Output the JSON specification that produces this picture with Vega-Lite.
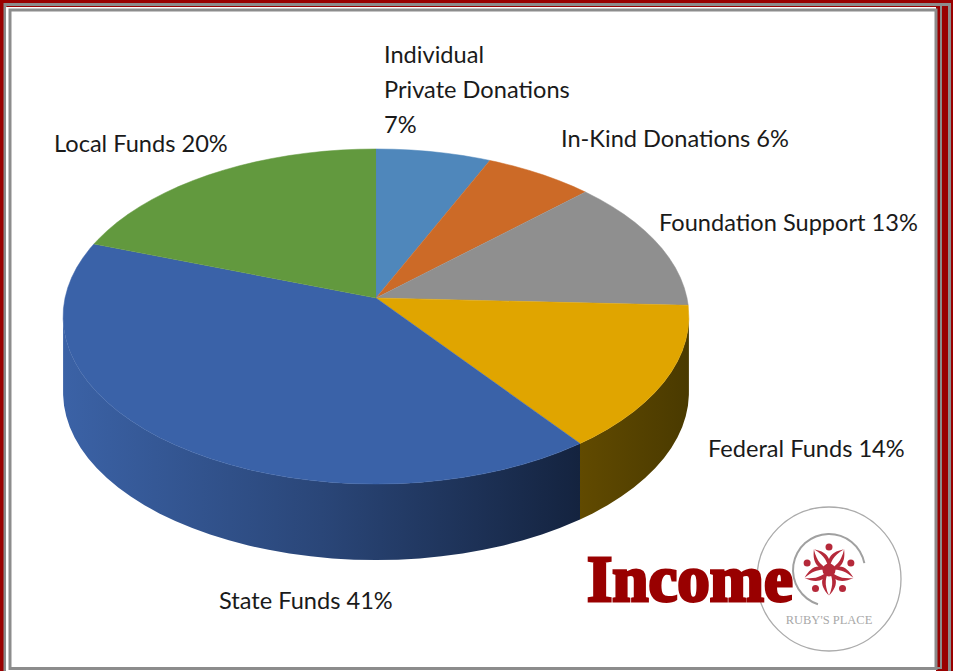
{
"$schema":"https://vega.github.io/schema/vega-lite/v6.json",
"width":953,"height":671,"padding":0,"autosize":"none","background":"#990000",
"config":{"view":{"stroke":null},"text":{"font":"Lato","fontSize":23.6,"fill":"#1a1a1a","align":"left","baseline":"alphabetic","lineBreak":"\n","lineHeight":35}},
"datasets":{
"slices":[
{"slice":"Individual Private Donations","share":7,"label":"Individual\nPrivate Donations\n7%","edge":[-1,0,1,2,3,4,5,6,6.6],"wall":[]},
{"slice":"In-Kind Donations","share":6,"label":"In-Kind Donations 6%","edge":[-1,6.6,7,8,9,10,11,12,12.9],"wall":[]},
{"slice":"Foundation Support","share":13,"label":"Foundation Support 13%","edge":[-1,12.9,14,15,16,17,18,19,20,21,22,23,24,25,25.7],"wall":[]},
{"slice":"Federal Funds","share":14,"label":"Federal Funds  14%","edge":[-1,25.7,27,28,29,30,31,32,33,34,35,36,37,38,39,39.8],"wall":[26.7,27,28,29,30,31,32,33,34,35,36,37,38,39,39.8]},
{"slice":"State Funds","share":41,"label":"State Funds 41%","edge":[-1,39.8,41,42,43,44,45,46,47,48,49,50,51,52,53,54,55,56,57,58,59,60,61,62,63,64,65,66,67,68,69,70,71,72,73,74,75,76,77,78,79,80,80.5],"wall":[39.8,41,42,43,44,45,46,47,48,49,50,51,52,53,54,55,56,57,58,59,60,61,62,63,64,65,66,67,68,69,70,71,72,73,73.3]},
{"slice":"Local Funds","share":20,"label":"Local Funds 20%","edge":[-1,80.5,81,82,83,84,85,86,87,88,89,90,91,92,93,94,95,96,97,98,99,100],"wall":[]}
],
"petals":[{"a":0},{"a":72},{"a":144},{"a":216},{"a":288}],
"one":[{"note":"annotation"}]
},
"layer":[
{"data":{"name":"one"},"mark":{"type":"rect","fill":null,"stroke":"#8c8c8c","strokeWidth":3},
 "encoding":{"x":{"datum":-371,"type":"quantitative","scale":{"domain":[-376,577],"nice":false,"zero":false},"axis":null},"x2":{"datum":573.5},"y":{"datum":293.5,"type":"quantitative","scale":{"domain":[-373,298],"nice":false,"zero":false},"axis":null},"y2":{"datum":-400}}},
{"data":{"name":"one"},"mark":{"type":"rect","fill":null,"stroke":"#8c8c8c","strokeWidth":2},
 "encoding":{"x":{"datum":-371,"type":"quantitative"},"x2":{"datum":565},"y":{"datum":293.5,"type":"quantitative"},"y2":{"datum":-370}}},
{"data":{"name":"one"},"mark":{"type":"rect","fill":"#ffffff"},
 "encoding":{"x":{"datum":-370,"type":"quantitative"},"x2":{"datum":560},"y":{"datum":291,"type":"quantitative"},"y2":{"datum":-373}}},
{"data":{"name":"one"},"mark":{"type":"rect","fill":"#ffffff","stroke":"#8c8c8c","strokeWidth":3},
 "encoding":{"x":{"datum":-366,"type":"quantitative"},"x2":{"datum":560},"y":{"datum":288,"type":"quantitative"},"y2":{"datum":-370.5}}},

{"data":{"name":"slices"},
 "transform":[{"filter":"datum.slice==='State Funds'"},{"flatten":["wall"]},
  {"calculate":"2*PI*datum.wall/100","as":"t"},
  {"calculate":"311*sin(datum.t)/(1+0.1104*cos(datum.t))","as":"px"},
  {"calculate":"165.5*cos(datum.t)/(1+0.1104*cos(datum.t))","as":"py"},
  {"calculate":"datum.py-76","as":"pyl"}],
 "mark":{"type":"area","fill":{"gradient":"linear","x1":0,"x2":1,"y1":0,"y2":0,"stops":[{"offset":0,"color":"#3b62a6"},{"offset":0.5,"color":"#2a4678"},{"offset":1,"color":"#14233f"}]}},
 "encoding":{"x":{"field":"px","type":"quantitative"},"y":{"field":"py","type":"quantitative"},"y2":{"field":"pyl"}}},
{"data":{"name":"slices"},
 "transform":[{"filter":"datum.slice==='Federal Funds'"},{"flatten":["wall"]},
  {"calculate":"2*PI*datum.wall/100","as":"t"},
  {"calculate":"311*sin(datum.t)/(1+0.1104*cos(datum.t))","as":"px"},
  {"calculate":"165.5*cos(datum.t)/(1+0.1104*cos(datum.t))","as":"py"},
  {"calculate":"datum.py-76","as":"pyl"}],
 "mark":{"type":"area","fill":{"gradient":"linear","x1":0,"x2":1,"y1":0,"y2":0,"stops":[{"offset":0,"color":"#614a00"},{"offset":1,"color":"#4a3a00"}]}},
 "encoding":{"x":{"field":"px","type":"quantitative"},"y":{"field":"py","type":"quantitative"},"y2":{"field":"pyl"}}},

{"data":{"name":"slices"},
 "transform":[{"flatten":["edge"]},
  {"calculate":"2*PI*datum.edge/100","as":"t"},
  {"calculate":"datum.edge<0?0:311*sin(datum.t)/(1+0.1104*cos(datum.t))","as":"px"},
  {"calculate":"datum.edge<0?0:165.5*cos(datum.t)/(1+0.1104*cos(datum.t))","as":"py"}],
 "mark":{"type":"line","strokeWidth":0.5},
 "encoding":{"x":{"field":"px","type":"quantitative"},"y":{"field":"py","type":"quantitative"},"order":{"field":"edge","type":"quantitative"},
  "detail":{"field":"slice"},
  "fill":{"field":"slice","type":"nominal","legend":null,"scale":{"domain":["Individual Private Donations","In-Kind Donations","Foundation Support","Federal Funds","State Funds","Local Funds"],"range":["#4f87bb","#cc6a27","#8f8f8f","#e0a500","#3a62a8","#62993e"]}},
  "color":{"field":"slice","type":"nominal","legend":null,"scale":{"domain":["Individual Private Donations","In-Kind Donations","Foundation Support","Federal Funds","State Funds","Local Funds"],"range":["#4f87bb","#cc6a27","#8f8f8f","#e0a500","#3a62a8","#62993e"]}}}},

{"data":{"name":"slices"},"transform":[{"filter":"datum.slice==='Individual Private Donations'"}],"mark":{"type":"text"},"encoding":{"x":{"datum":8,"type":"quantitative"},"y":{"datum":235,"type":"quantitative"},"text":{"field":"label"}}},
{"data":{"name":"slices"},"transform":[{"filter":"datum.slice==='In-Kind Donations'"}],"mark":{"type":"text"},"encoding":{"x":{"datum":185,"type":"quantitative"},"y":{"datum":151,"type":"quantitative"},"text":{"field":"label"}}},
{"data":{"name":"slices"},"transform":[{"filter":"datum.slice==='Foundation Support'"}],"mark":{"type":"text"},"encoding":{"x":{"datum":283,"type":"quantitative"},"y":{"datum":67,"type":"quantitative"},"text":{"field":"label"}}},
{"data":{"name":"slices"},"transform":[{"filter":"datum.slice==='Federal Funds'"}],"mark":{"type":"text"},"encoding":{"x":{"datum":332,"type":"quantitative"},"y":{"datum":-159,"type":"quantitative"},"text":{"field":"label"}}},
{"data":{"name":"slices"},"transform":[{"filter":"datum.slice==='State Funds'"}],"mark":{"type":"text"},"encoding":{"x":{"datum":-157,"type":"quantitative"},"y":{"datum":-311,"type":"quantitative"},"text":{"field":"label"}}},
{"data":{"name":"slices"},"transform":[{"filter":"datum.slice==='Local Funds'"}],"mark":{"type":"text"},"encoding":{"x":{"datum":-322,"type":"quantitative"},"y":{"datum":146,"type":"quantitative"},"text":{"field":"label"}}},

{"data":{"name":"one"},"mark":{"type":"point","shape":"circle","size":20736,"filled":false,"stroke":"#ababab","strokeWidth":1.3,"opacity":1},
 "encoding":{"x":{"datum":453,"type":"quantitative"},"y":{"datum":-281,"type":"quantitative"}}},
{"data":{"name":"one"},"mark":{"type":"arc","radius":37,"radius2":35,"theta":-2.83,"theta2":1.38,"fill":"#a0a0a0"},
 "encoding":{"x":{"datum":453,"type":"quantitative"},"y":{"datum":-272,"type":"quantitative"}}},
{"data":{"name":"petals"},"transform":[{"calculate":"453+14*sin(datum.a*PI/180)","as":"px"},{"calculate":"-272+14*cos(datum.a*PI/180)","as":"py"}],
 "mark":{"type":"point","filled":true,"fill":"#b5293a","opacity":1,"size":900,"shape":"M0,1 C-0.1,0.4 -0.25,0 -1,-0.45 C-0.5,-0.35 -0.12,-0.15 0,0.2 C0.12,-0.15 0.5,-0.35 1,-0.45 C0.25,0 0.1,0.4 0,1Z"},
 "encoding":{"x":{"field":"px","type":"quantitative"},"y":{"field":"py","type":"quantitative"},"angle":{"field":"a","type":"quantitative","scale":null}}},
{"data":{"name":"petals"},"transform":[{"calculate":"453+23*sin(datum.a*PI/180)","as":"px"},{"calculate":"-272+23*cos(datum.a*PI/180)","as":"py"}],
 "mark":{"type":"point","shape":"circle","filled":true,"fill":"#b5293a","opacity":1,"size":49},
 "encoding":{"x":{"field":"px","type":"quantitative"},"y":{"field":"py","type":"quantitative"}}},
{"data":{"name":"one"},"mark":{"type":"point","shape":"circle","filled":true,"fill":"#b5293a","opacity":1,"size":170},
 "encoding":{"x":{"datum":453,"type":"quantitative"},"y":{"datum":-272,"type":"quantitative"}}},
{"data":{"name":"one"},"mark":{"type":"text","font":"Liberation Serif","fontSize":12.5,"fill":"#a8a8a8","align":"center","text":"RUBY'S PLACE"},
 "encoding":{"x":{"datum":453,"type":"quantitative"},"y":{"datum":-326,"type":"quantitative"}}},
{"data":{"name":"one"},"mark":{"type":"text","font":"Liberation Serif","fontWeight":"bold","fontSize":65,"fill":"#990000","stroke":"#990000","strokeWidth":3,"align":"left","text":"Income"},
 "encoding":{"x":{"datum":211,"type":"quantitative"},"y":{"datum":-303,"type":"quantitative"}}}
]
}
